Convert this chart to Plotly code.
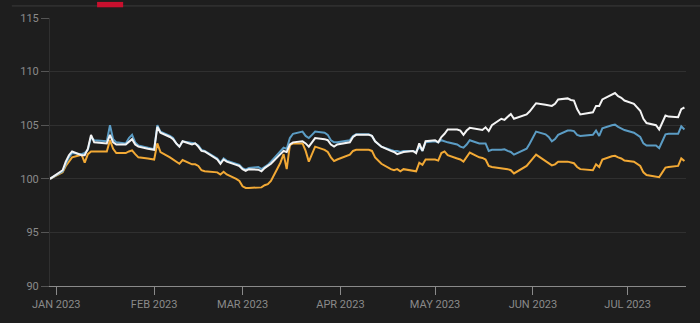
import plotly.graph_objects as go

dates = [
"2022-12-30","2023-01-03","2023-01-04","2023-01-05","2023-01-06","2023-01-09","2023-01-10","2023-01-11","2023-01-12","2023-01-13",
"2023-01-17","2023-01-18","2023-01-19","2023-01-20","2023-01-23","2023-01-24","2023-01-25","2023-01-26","2023-01-27","2023-01-30",
"2023-01-31","2023-02-01","2023-02-02","2023-02-03","2023-02-06","2023-02-07","2023-02-08","2023-02-09","2023-02-10","2023-02-13",
"2023-02-14","2023-02-15","2023-02-16","2023-02-17","2023-02-21","2023-02-22","2023-02-23","2023-02-24","2023-02-27","2023-02-28",
"2023-03-01","2023-03-02","2023-03-03","2023-03-06","2023-03-07","2023-03-08","2023-03-09","2023-03-10","2023-03-13","2023-03-14",
"2023-03-15","2023-03-16","2023-03-17","2023-03-20","2023-03-21","2023-03-22","2023-03-23","2023-03-24","2023-03-27","2023-03-28",
"2023-03-29","2023-03-30","2023-03-31","2023-04-03","2023-04-04","2023-04-05","2023-04-06","2023-04-10","2023-04-11","2023-04-12",
"2023-04-13","2023-04-14","2023-04-17","2023-04-18","2023-04-19","2023-04-20","2023-04-21","2023-04-24","2023-04-25","2023-04-26",
"2023-04-27","2023-04-28","2023-05-01","2023-05-02","2023-05-03","2023-05-04","2023-05-05","2023-05-08","2023-05-09","2023-05-10",
"2023-05-11","2023-05-12","2023-05-15","2023-05-16","2023-05-17","2023-05-18","2023-05-19","2023-05-22","2023-05-23","2023-05-24",
"2023-05-25","2023-05-26","2023-05-30","2023-05-31","2023-06-01","2023-06-02","2023-06-05","2023-06-06","2023-06-07","2023-06-08",
"2023-06-09","2023-06-12","2023-06-13","2023-06-14","2023-06-15","2023-06-16","2023-06-20","2023-06-21","2023-06-22","2023-06-23",
"2023-06-26","2023-06-27","2023-06-28","2023-06-29","2023-06-30","2023-07-03","2023-07-05","2023-07-06","2023-07-07","2023-07-10",
"2023-07-11","2023-07-12","2023-07-13","2023-07-14","2023-07-17","2023-07-18","2023-07-19"]

white_series = [
100, 100.8, 101.6, 102.2, 102.55, 102.2, 102.2, 102.8, 104.1, 103.4,
103.3, 104.1, 103.4, 103.2, 103.2, 103.5, 103.7, 103.2, 103.0, 102.8,
102.75, 102.7, 104.85, 104.3, 103.9, 103.7, 103.3, 103.0, 103.5, 103.2,
103.3, 103.0, 102.6, 102.55, 101.8, 101.4, 101.8, 101.6, 101.3, 101.2,
100.9, 100.75, 100.9, 100.85, 100.7, 101.0, 101.2, 101.4, 102.3, 102.6,
102.5, 103.2, 103.4, 103.5, 103.3, 103.0, 103.4, 103.8, 103.7, 103.6,
103.2, 103.0, 103.2, 103.3, 103.4, 103.9, 104.1, 104.1, 104.0, 103.5,
103.2, 103.0, 102.6, 102.5, 102.3, 102.4, 102.5, 102.6, 102.4, 103.3,
102.6, 103.5, 103.6, 103.4, 103.9, 104.2, 104.6, 104.6, 104.5, 104.1,
104.5, 104.75, 104.6, 104.55, 104.8, 104.45, 105.0, 105.6, 105.5, 105.8,
106.05, 105.6, 106.0, 106.3, 106.7, 107.05, 106.9, 106.85, 106.8, 107.0,
107.4, 107.5, 107.35, 107.3, 106.5, 106.0, 106.2, 106.8, 106.8, 107.4,
107.9, 108.0, 107.7, 107.55, 107.3, 107.0, 106.35, 105.6, 105.2, 105.0,
104.6, 105.2, 105.9, 105.8, 105.75, 106.5, 106.65]

blue_series = [
100, 100.7, 101.4, 102.0, 102.4, 102.3, 102.4, 102.7, 103.9, 103.6,
103.5, 105.0, 103.7, 103.4, 103.3, 103.8, 104.1, 103.4, 103.1, 102.9,
102.8, 102.75, 105.0, 104.4, 104.0, 103.8, 103.3, 103.0, 103.5, 103.3,
103.3, 103.1, 102.7, 102.6, 101.9, 101.5, 101.9, 101.7, 101.4, 101.3,
101.0, 100.85, 101.0, 101.1, 100.9, 101.1, 101.3, 101.6, 102.5, 102.9,
102.8, 103.8, 104.2, 104.4, 104.0, 103.8, 104.1, 104.4, 104.3, 104.1,
103.6, 103.4, 103.4, 103.5, 103.6, 104.0, 104.15, 104.15, 104.0, 103.5,
103.2, 103.0, 102.7, 102.6, 102.6, 102.5, 102.6, 102.6, 102.5, 103.0,
102.6, 103.4, 103.5, 103.4, 103.6, 103.5, 103.4, 103.2, 103.0, 102.9,
103.2, 103.6, 103.3, 103.3, 103.3, 102.6, 102.7, 102.7, 102.75, 102.6,
102.5, 102.25, 102.8, 103.3, 103.9, 104.4, 104.15, 103.9, 103.5, 103.7,
104.1, 104.5, 104.5, 104.45, 104.1, 104.0, 104.1, 104.5, 104.0, 104.7,
105.0, 105.05, 104.85, 104.7, 104.55, 104.3, 103.9, 103.3, 103.1, 103.1,
102.85, 103.5, 104.15, 104.2, 104.2, 104.9, 104.6]

orange_series = [
100, 100.6, 101.2, 101.6, 102.0, 102.25, 101.5, 102.3, 102.55, 102.55,
102.55, 103.6, 102.8, 102.4, 102.4, 102.55, 102.65, 102.3, 102.0, 101.9,
101.85, 101.8, 103.3, 102.5, 102.0, 101.8, 101.65, 101.4, 101.75, 101.35,
101.35, 101.2, 100.8, 100.7, 100.6, 100.4, 100.65, 100.4, 100.0, 99.8,
99.3, 99.15, 99.15, 99.2, 99.2, 99.4, 99.5, 99.8, 101.5, 102.3,
100.9, 103.15, 103.3, 103.3, 102.6, 101.6, 102.3, 103.0, 102.7, 102.5,
102.0, 101.65, 101.8, 102.1, 102.25, 102.6, 102.7, 102.7, 102.6, 102.0,
101.65, 101.4, 100.9, 100.8, 100.9, 100.7, 100.9, 100.7, 100.7, 101.5,
101.3, 101.8, 101.8, 101.7, 102.4, 102.55, 102.2, 101.9, 101.8, 101.6,
102.0, 102.45, 102.0, 101.95, 101.8, 101.2, 101.1, 101.0, 101.0, 100.9,
100.8, 100.5, 101.2, 101.5, 101.9, 102.25, 101.7, 101.5, 101.25, 101.35,
101.6, 101.6, 101.5, 101.45, 101.1, 100.9, 100.8, 101.35, 101.1, 101.8,
102.1, 102.15, 102.0, 101.9, 101.7, 101.6, 101.2, 100.6, 100.35, 100.2,
100.15, 100.6, 101.05, 101.1, 101.2, 101.9, 101.65]

x_tick_vals = ["2023-01-01", "2023-02-01", "2023-03-01", "2023-04-01",
               "2023-05-01", "2023-06-01", "2023-07-01"]
x_tick_text = ["JAN 2023", "FEB 2023", "MAR 2023", "APR 2023",
               "MAY 2023", "JUN 2023", "JUL 2023"]
y_tick_vals = [90, 95, 100, 105, 110, 115]

BG = "#1e1e1e"
TICKFONT = dict(family="Roboto, Arial, sans-serif", size=11, color="#8a8a8a")

fig = go.Figure()
fig.add_trace(go.Scatter(x=dates, y=orange_series, mode="lines",
                         line=dict(color="#f2a935", width=2), hoverinfo="skip"))
fig.add_trace(go.Scatter(x=dates, y=blue_series, mode="lines",
                         line=dict(color="#5b9cc4", width=2), hoverinfo="skip"))
fig.add_trace(go.Scatter(x=dates, y=white_series, mode="lines",
                         line=dict(color="#f4f4f4", width=2), hoverinfo="skip"))

fig.update_layout(
    width=700, height=323,
    margin=dict(l=50, r=14, t=14, b=35),
    paper_bgcolor=BG, plot_bgcolor=BG,
    showlegend=False,
    xaxis=dict(
        type="date",
        range=["2022-12-30", "2023-07-19 12:00"],
        tickvals=x_tick_vals, ticktext=x_tick_text,
        tickfont=TICKFONT,
        showgrid=False, zeroline=False,
        showline=True, linecolor="#8a8a8a", linewidth=1,
        ticks="outside", ticklen=8, tickcolor="#8a8a8a", tickwidth=1,
    ),
    yaxis=dict(
        range=[90, 115],
        tickvals=y_tick_vals,
        tickfont=TICKFONT,
        showgrid=True, gridcolor="#303030", gridwidth=1,
        zeroline=False,
        showline=True, linecolor="#303030", linewidth=1,
        ticks="outside", ticklen=8, tickcolor="#555555", tickwidth=1,
    ),
    shapes=[
        dict(type="line", xref="paper", yref="paper", x0=-0.06, x1=1.03,
             y0=1.045, y1=1.045, line=dict(color="#3c3c3c", width=1)),
        dict(type="rect", xref="paper", yref="paper", x0=0.074, x1=0.115,
             y0=1.04, y1=1.06, fillcolor="#c8102e", line=dict(width=0)),
    ],
)

fig.write_html("out.html")
